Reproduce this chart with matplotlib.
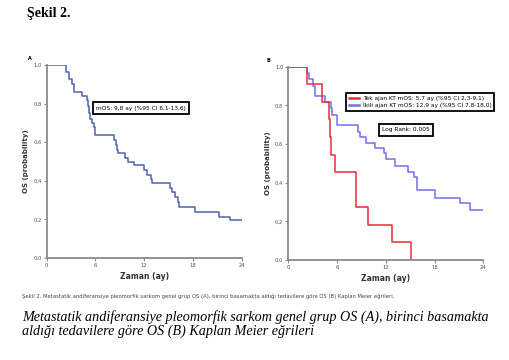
import matplotlib
matplotlib.use("Agg")
import matplotlib.pyplot as plt
from matplotlib.ticker import FuncFormatter

# Panel A - whole group
times_a = [0, 2.4, 2.7, 3.1, 3.35, 4.4, 4.9, 5.1, 5.2, 5.3, 5.6, 5.8, 6.0, 8.3, 8.5, 8.7, 8.8,
           9.6, 10.0, 10.8, 12.0, 12.3, 12.8, 13.0, 15.2, 15.4, 15.8, 16.2, 16.3, 18.3, 21.2, 22.5, 24.0]
surv_a = [1.0, 0.965, 0.93, 0.90, 0.862, 0.84, 0.82, 0.79, 0.75, 0.72, 0.70, 0.68, 0.635, 0.61, 0.585,
          0.56, 0.545, 0.52, 0.50, 0.48, 0.455, 0.43, 0.41, 0.39, 0.365, 0.34, 0.315, 0.29, 0.265,
          0.24, 0.215, 0.195, 0.195]

# Panel B - single agent (red) vs doublet (blue)
times_red = [0, 2.26, 4.1, 5.05, 5.1, 5.2, 5.74, 8.33, 9.85, 12.8, 15.1]
surv_red = [1.0, 0.909, 0.818, 0.727, 0.636, 0.545, 0.455, 0.273, 0.182, 0.091, 0.0]

times_blue = [0, 2.34, 2.58, 3.08, 3.28, 4.5, 5.2, 5.4, 6.0, 8.54, 8.82, 9.52, 10.67, 11.8,
              11.98, 13.13, 14.77, 15.5, 15.9, 18.05, 21.1, 22.4, 24.0]
surv_blue = [1.0, 0.968, 0.935, 0.90, 0.848, 0.816, 0.784, 0.752, 0.698, 0.664, 0.638, 0.607,
             0.578, 0.552, 0.521, 0.486, 0.457, 0.428, 0.362, 0.322, 0.293, 0.258, 0.258]

xticks = [0, 6, 12, 18, 24]
yticks = [0.0, 0.2, 0.4, 0.6, 0.8, 1.0]

W, H = 509, 360


def fx(x):
    return x / W


def fy(y):
    return 1 - y / H


def style_axes(ax):
    for s in ["top", "right"]:
        ax.spines[s].set_visible(False)
    for s in ["left", "bottom"]:
        ax.spines[s].set_color("#8a8a8a")
        ax.spines[s].set_linewidth(1.3)
    ax.set_xlim(0, 24)
    ax.set_ylim(0, 1.0)
    ax.set_xticks(xticks)
    ax.set_yticks(yticks)
    ax.yaxis.set_major_formatter(FuncFormatter(lambda v, p: f"{v:.1f}".replace(".", ",")))
    ax.tick_params(labelsize=3.8, colors="#8a8a8a", labelcolor="#555555", length=2, width=0.8, pad=1.5)
    ax.set_xlabel("Zaman (ay)", fontsize=5.5, fontweight="bold", color="#333333", labelpad=3)
    ax.set_ylabel("OS (probability)", fontsize=5, fontweight="bold", color="#333333", labelpad=3)


fig = plt.figure(figsize=(W / 100, H / 100), dpi=100)

axA = fig.add_axes([fx(46.7), fy(258), fx(241.7) - fx(46.7), fy(65) - fy(258)])
axA.step(times_a, surv_a, where="post", color="#4f62b3", lw=1.1)
style_axes(axA)
axA.text(11.6, 0.775, "mOS: 9,8 ay (%95 CI 6,1-13,6)", fontsize=4.2, ha="center", va="center",
         bbox=dict(boxstyle="square,pad=0.6", fc="white", ec="black", lw=1.3))

axB = fig.add_axes([fx(288.3), fy(260), fx(483.3) - fx(288.3), fy(66.7) - fy(260)])
axB.step(times_blue, surv_blue, where="post", color="#7272ea", lw=1.1,
         label="İkili ajan KT mOS: 12,9 ay (%95 CI 7,8-18,0)")
axB.step(times_red, surv_red, where="post", color="#ee2a3a", lw=1.1,
         label="Tek ajan KT mOS: 5,7 ay (%95 CI 2,3-9,1)")
style_axes(axB)
handles, labels = axB.get_legend_handles_labels()
leg = axB.legend(handles[::-1], labels[::-1], loc="upper left", bbox_to_anchor=(0.294, 0.865),
                 fontsize=4.2, frameon=True, fancybox=False, edgecolor="black", framealpha=1,
                 handlelength=1.8, handletextpad=0.6, borderpad=0.5, labelspacing=0.3,
                 borderaxespad=0)
leg.get_frame().set_linewidth(1.3)
for ln in leg.get_lines():
    ln.set_linewidth(1.8)
axB.text(0.604, 0.673, "Log Rank: 0,005", transform=axB.transAxes, fontsize=4.2, ha="center",
         va="center", bbox=dict(boxstyle="square,pad=0.6", fc="white", ec="black", lw=1.3))

# panel letters
fig.text(fx(30), fy(58), "A", fontsize=3.5, fontweight="bold", ha="center", va="center")
fig.text(fx(268), fy(61), "B", fontsize=3.5, fontweight="bold", ha="center", va="center")

# headings and captions
fig.text(fx(27), fy(14), "Şekil 2.", fontsize=10, fontweight="bold", family="Liberation Serif",
         ha="left", va="center")
fig.text(fx(22), fy(296),
         "Şekil 2. Metastatik andiferansiye pleomorfik sarkom genel grup OS (A), birinci basamakta "
         "aldığı tedavilere göre OS (B) Kaplan Meier eğrileri.",
         fontsize=3.8, color="#444444", ha="left", va="center")
fig.text(fx(22), fy(317),
         "Metastatik andiferansiye pleomorfik sarkom genel grup OS (A), birinci basamakta",
         fontsize=10.2, style="italic", family="Liberation Serif", ha="left", va="center")
fig.text(fx(22), fy(331), "aldığı tedavilere göre OS (B) Kaplan Meier eğrileri",
         fontsize=10.2, style="italic", family="Liberation Serif", ha="left", va="center")

fig.savefig("out.png", dpi=100)
